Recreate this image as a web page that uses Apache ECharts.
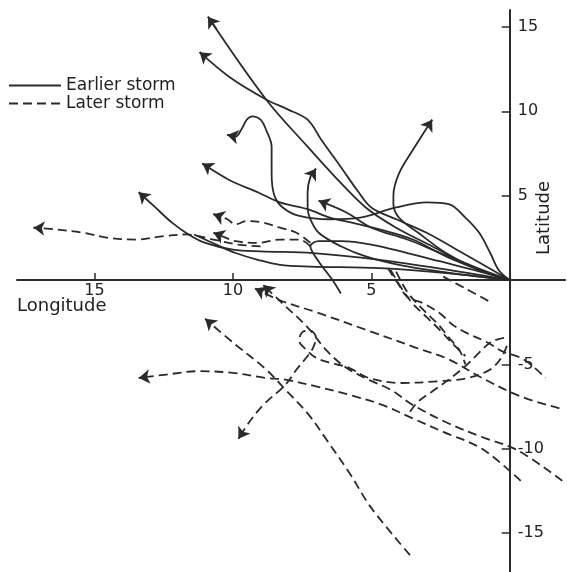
<!DOCTYPE html>
<html>
<head>
<meta charset="utf-8">
<script src="https://cdn.jsdelivr.net/npm/echarts@6/dist/echarts.min.js"></script>
<style>
html, body { margin: 0; padding: 0; background: #fff; }
#container { width: 567px; height: 572px; }
</style>
</head>
<body>
<div id="container"></div>
<script>
var lonTicks = [5, 10, 15];
var latTicks = [-15, -10, -5, 5, 10, 15];
var legendNames = ['Earlier storm', 'Later storm'];

// tracks as [longitude, latitude], in the order travelled
// earlier storms (solid)
var earlier1 = [[0,0],[1.4,0.8],[2.8,2.0],[4.1,3.1],[5.2,4.3],[6.3,6.1],[7.3,7.9],[8.8,10.7],[10.9,15.6]];
var earlier2 = [[0,0],[1.7,1.6],[3.0,2.8],[4.1,3.6],[5.0,4.3],[5.5,5.3],[6.1,6.7],[6.8,8.3],[7.3,9.5],[8.0,10.1],[8.8,10.7],[10.1,12.0],[11.2,13.5]];
var earlier3 = [[0,0],[0.4,0.6],[0.7,1.6],[1.1,2.8],[1.6,3.7],[2.2,4.5],[3.0,4.6],[4.1,4.3],[5.4,3.7],[6.5,3.6],[7.6,3.8],[8.2,4.3],[8.5,5.0],[8.6,6.3],[8.6,7.9],[8.8,8.9],[9.0,9.5],[9.3,9.7],[9.5,9.5],[9.7,8.9],[9.9,8.5],[10.2,8.6]];
var earlier4 = [[0,0],[1.1,0.6],[2.3,1.6],[3.3,2.8],[4.0,3.7],[4.2,4.5],[4.2,5.0],[4.0,6.3],[3.5,7.7],[2.8,9.5]];
var earlier5 = [[0,0],[1.1,0.6],[2.3,1.4],[3.5,2.4],[4.7,3.0],[5.7,3.4],[6.5,3.7],[7.3,4.2],[8.3,4.6],[9.1,5.2],[10.1,5.9],[11.1,6.9]];
var earlier6 = [[0,0],[1.1,0.2],[2.5,0.5],[4.0,0.9],[5.2,1.4],[6.1,2.0],[6.9,2.8],[7.2,3.6],[7.3,4.3],[7.3,5.2],[7.2,6.1],[7.0,6.6]];
var earlier7 = [[0,0],[1.3,0.8],[2.5,1.6],[3.7,2.4],[5.0,3.1],[5.9,4.0],[6.9,4.7]];
var earlier8 = [[0,0],[2.2,0.6],[4.7,1.2],[7.1,1.6],[9.0,1.7],[10.0,1.8],[11.0,2.2],[11.6,2.7],[12.2,3.4],[12.8,4.3],[13.4,5.2]];
var earlier9 = [[0,0],[2.2,0.4],[4.7,0.7],[7.2,0.8],[8.3,0.9],[9.1,1.2],[9.9,1.6],[10.6,2.1],[11.4,2.7]];
var earlier10 = [[0,0],[1.3,0.6],[2.5,1.1],[3.7,1.6],[5.0,2.1],[6.1,2.3],[6.9,2.3],[7.2,2.0],[6.9,1.1],[6.4,0],[6.1,-0.8]];

// later storms (dashed)
var later1 = [[-1.8,-7.6],[-0.4,-6.9],[1.0,-5.8],[2.2,-4.7],[3.4,-4.0],[5.1,-3.0],[7.0,-1.9],[8.3,-1.2],[9.2,-0.5]];
var later2 = [[-1.9,-11.9],[-0.3,-10.1],[1.0,-9.3],[2.2,-8.5],[3.5,-7.4],[4.3,-6.5],[5.1,-5.9],[5.9,-5.2],[6.6,-4.2],[7.3,-2.8],[8.2,-1.4],[8.9,-0.3]];
var later3 = [[0.1,-3.9],[0.3,-4.6],[0.7,-5.3],[1.5,-5.8],[2.6,-6.0],[3.9,-6.1],[5.1,-5.8],[5.8,-5.2],[6.5,-4.9],[7.0,-4.6],[7.3,-4.2],[7.6,-3.6],[7.5,-3.1],[7.2,-3.0],[7.0,-3.4],[7.1,-4.0],[7.3,-4.5],[7.7,-5.3],[8.1,-6.2],[8.9,-7.4],[9.4,-8.4],[9.8,-9.4]];
var later4 = [[3.6,-7.8],[3.3,-7.2],[2.8,-6.6],[2.2,-5.9],[1.6,-5.1],[1.1,-4.3],[0.7,-3.7],[0.4,-3.5],[0.1,-3.4]];
var later5 = [[3.6,-16.3],[5.0,-13.5],[5.8,-11.4],[6.6,-9.5],[7.3,-7.9],[8.1,-6.5],[8.8,-5.3],[10.0,-3.7],[11.0,-2.3]];
var later6 = [[-0.4,-11.9],[1.0,-10.0],[2.4,-9.0],[3.5,-8.2],[4.6,-7.4],[5.8,-6.8],[7.0,-6.3],[8.1,-5.9],[8.8,-5.8],[10.0,-5.5],[11.2,-5.4],[12.4,-5.6],[13.4,-5.8]];
var later7 = [[4.4,0.7],[4.0,-0.3],[3.7,-1.0],[3.1,-1.4],[2.5,-2.0],[2.1,-2.6],[1.6,-3.1],[0.8,-3.7],[0.3,-4.2],[-0.5,-4.7],[-1.3,-5.8]];
var later8 = [[4.3,0.6],[3.9,-0.5],[3.5,-1.4],[3.0,-2.2],[2.5,-3.0],[2.1,-3.7],[1.6,-4.5]];
var later9 = [[4.1,0.5],[3.7,-0.7],[3.1,-1.8],[2.6,-2.6],[2.2,-3.4],[1.8,-4.2],[1.6,-5.0]];
var later10 = [[2.4,0.2],[1.6,-0.5],[0.7,-1.3]];
var later11 = [[9.0,2.0],[9.8,2.1],[10.7,2.4],[11.7,2.7],[12.5,2.6],[13.5,2.4],[14.5,2.5],[15.4,2.8],[16.4,3.0],[17.2,3.1]];
var later12 = [[7.2,2.2],[7.7,2.8],[8.3,3.1],[8.9,3.4],[9.5,3.5],[9.9,3.3],[10.2,3.6],[10.7,3.9]];
var later13 = [[7.2,2.0],[7.6,2.4],[8.3,2.4],[9.1,2.2],[9.9,2.3],[10.4,2.6],[10.7,2.8]];

var earlierTracks = [earlier1, earlier2, earlier3, earlier4, earlier5, earlier6, earlier7, earlier8, earlier9, earlier10];
var earlierArrows = [earlier1, earlier2, earlier3, earlier4, earlier5, earlier6, earlier7, earlier8];
var laterTracks = [later1, later2, later3, later4, later5, later6, later7, later8, later9, later10, later11, later12, later13];
var laterArrows = [later1, later2, later3, later5, later6, later11, later12, later13];

var ink = '#2a2a2a';
var myChart = echarts.init(document.getElementById('container'));

function trackSeries(name, pts, dashed) {
    return {
        name: name,
        type: 'line',
        data: pts,
        smooth: 0.35,
        symbol: 'none',
        silent: true,
        animation: false,
        lineStyle: { color: ink, width: 1.8, type: dashed ? [9, 5] : 'solid' }
    };
}

// short piece at the end of a track, only used to orient the arrowhead
function arrowPiece(pts) {
    var a = pts[pts.length - 2];
    var b = pts[pts.length - 1];
    return { coords: [[a[0] + (b[0] - a[0]) * 0.85, a[1] + (b[1] - a[1]) * 0.85], b] };
}

var series = [];
earlierTracks.forEach(function (t) { series.push(trackSeries('Earlier storm', t, false)); });
laterTracks.forEach(function (t) { series.push(trackSeries('Later storm', t, true)); });
series.push({
    name: 'arrows',
    type: 'lines',
    coordinateSystem: 'cartesian2d',
    data: earlierArrows.concat(laterArrows).map(arrowPiece),
    symbol: ['none', 'arrow'],
    symbolSize: 11,
    silent: true,
    animation: false,
    lineStyle: { color: ink, width: 1.8, opacity: 1 }
});

var option = {
    animation: false,
    grid: { left: 17, right: 2, top: 10, bottom: 0 },
    legend: {
        data: legendNames,
        orient: 'vertical',
        left: 8,
        top: 77,
        padding: 0,
        itemWidth: 52,
        itemHeight: 12,
        itemGap: 1,
        selectedMode: false,
        itemStyle: { opacity: 0 },
        textStyle: { fontSize: 17, color: '#222', fontFamily: 'DejaVu Sans' }
    },
    // axes crossing at the origin: shifted from the grid edges with offset
    xAxis: {
        type: 'value',
        inverse: true,
        min: -2,
        max: 17.8,
        position: 'bottom',
        offset: -292,
        splitLine: { show: false },
        axisLine: { onZero: false, lineStyle: { color: ink, width: 2 } },
        axisTick: { inside: true, length: 7, customValues: lonTicks, lineStyle: { color: ink, width: 1.5 } },
        axisLabel: { customValues: lonTicks, margin: 3, fontSize: 16, color: '#222', fontFamily: 'DejaVu Sans' }
    },
    yAxis: {
        type: 'value',
        min: -17.3,
        max: 16,
        position: 'left',
        offset: -492.7,
        splitLine: { show: false },
        axisLine: { onZero: false, lineStyle: { color: ink, width: 2 } },
        axisTick: { length: 8, customValues: latTicks, lineStyle: { color: ink, width: 1.5 } },
        axisLabel: { inside: true, margin: 8, customValues: latTicks, fontSize: 16, color: '#222', fontFamily: 'DejaVu Sans' }
    },
    graphic: [
        {
            type: 'text', left: 17, top: 297,
            style: { text: 'Longitude', fontSize: 18, fill: '#222', fontFamily: 'DejaVu Sans' }
        },
        {
            type: 'text', x: 544, y: 218, rotation: Math.PI / 2,
            style: { text: 'Latitude', fontSize: 18, fill: '#222', fontFamily: 'DejaVu Sans', align: 'center', verticalAlign: 'middle' }
        }
    ],
    series: series
};
myChart.setOption(option);
</script>
</body>
</html>
